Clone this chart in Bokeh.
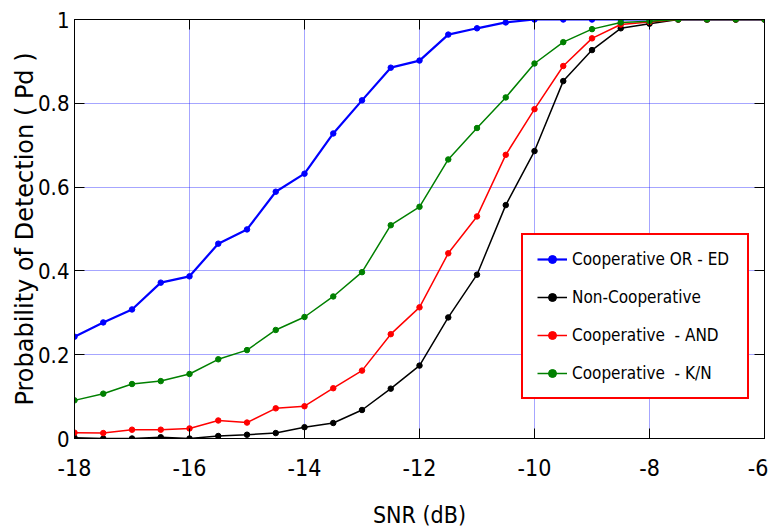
from bokeh.plotting import figure
from bokeh.models import (Range1d, FixedTicker, LinearAxis, Legend, LegendItem,
                          CustomJSTickFormatter)
from bokeh.embed import file_html
from bokeh.resources import INLINE

snr = [-18, -17.5, -17, -16.5, -16, -15.5, -15, -14.5, -14, -13.5, -13, -12.5,
       -12, -11.5, -11, -10.5, -10, -9.5, -9, -8.5, -8, -7.5, -7, -6.5, -6]
pd_or_ed = [0.243, 0.277, 0.308, 0.372, 0.387, 0.465, 0.499, 0.589, 0.632, 0.728,
            0.807, 0.885, 0.902, 0.964, 0.979, 0.993, 1, 1, 1, 1, 1, 1, 1, 1, 1]
pd_noncoop = [0.002, 0.0, 0.0, 0.003, 0.0, 0.006, 0.009, 0.013, 0.027, 0.037,
              0.068, 0.119, 0.174, 0.289, 0.391, 0.557, 0.686, 0.853, 0.927,
              0.979, 0.990, 1, 1, 1, 1]
pd_and = [0.014, 0.013, 0.021, 0.021, 0.024, 0.043, 0.038, 0.072, 0.077, 0.120,
          0.162, 0.249, 0.313, 0.442, 0.530, 0.677, 0.786, 0.889, 0.955, 0.988,
          0.994, 1, 1, 1, 1]
pd_kn = [0.091, 0.107, 0.130, 0.137, 0.154, 0.189, 0.211, 0.259, 0.290, 0.339,
         0.397, 0.509, 0.553, 0.666, 0.741, 0.814, 0.895, 0.946, 0.977, 0.993,
         0.996, 1, 1, 1, 1]

series = [
    ("Cooperative OR - ED", pd_or_ed, "#0000ff", 2.2),
    ("Non-Cooperative", pd_noncoop, "#000000", 1.5),
    ("Cooperative  - AND", pd_and, "#ff0000", 1.5),
    ("Cooperative  - K/N", pd_kn, "#008000", 1.5),
]
x_ticks = [-18, -16, -14, -12, -10, -8, -6]
y_ticks = [0, 0.2, 0.4, 0.6, 0.8, 1]

NARROW = "DejaVu Sans Condensed"

p = figure(width=768, height=530, output_backend="svg", toolbar_location=None,
           x_range=Range1d(-18, -6), y_range=Range1d(0, 1),
           min_border_left=74, min_border_right=4, min_border_top=19,
           min_border_bottom=92)
p.outline_line_color = "black"
p.outline_line_width = 1

items = []
for label, ys, color, lw in series:
    r1 = p.line(snr, ys, line_color=color, line_width=lw)
    r2 = p.scatter(snr, ys, marker="circle", size=5.5, fill_color=color,
                   line_color=color)
    items.append(LegendItem(label=label, renderers=[r1, r2]))

for ax in (p.xaxis[0], p.yaxis[0]):
    ax.axis_line_color = "black"
    ax.major_tick_line_color = "black"
    ax.major_tick_in = 10
    ax.major_tick_out = 0
    ax.minor_tick_line_color = None
    ax.major_label_text_font = NARROW
    ax.major_label_text_color = "black"
    ax.axis_label_text_font_style = "normal"
    ax.axis_label_text_color = "black"

p.xaxis.major_label_text_font_size = "23px"
p.yaxis.major_label_text_font_size = "22px"
p.xaxis.ticker = FixedTicker(ticks=x_ticks)
p.yaxis.ticker = FixedTicker(ticks=y_ticks)
p.xaxis.formatter = CustomJSTickFormatter(code="return String(tick);")
p.yaxis.formatter = CustomJSTickFormatter(
    code="return tick.toFixed(1).replace(/\\.0$/, '');")
p.xaxis.major_label_standoff = 20
p.yaxis.major_label_standoff = 5
p.xaxis.axis_label = "SNR (dB)"
p.xaxis.axis_label_text_font = NARROW
p.xaxis.axis_label_text_font_size = "23px"
p.xaxis.axis_label_standoff = 23
p.yaxis.axis_label = "Probability of Detection ( Pd )"
p.yaxis.axis_label_text_font = "DejaVu Sans"
p.yaxis.axis_label_text_font_size = "24px"
p.yaxis.axis_label_standoff = -4

# box ticks on top / right (no labels)
empty = CustomJSTickFormatter(code="return '';")
top = LinearAxis(ticker=FixedTicker(ticks=x_ticks), major_tick_in=10,
                 major_tick_out=0, minor_tick_line_color=None,
                 formatter=empty, major_label_standoff=0,
                 major_label_text_font_size="1px", axis_line_color="black")
right = LinearAxis(ticker=FixedTicker(ticks=y_ticks), major_tick_in=10,
                   major_tick_out=0, minor_tick_line_color=None,
                   formatter=empty, major_label_standoff=0,
                   major_label_text_font_size="1px", axis_line_color="black")
p.add_layout(top, "above")
p.add_layout(right, "right")

p.xgrid.ticker = FixedTicker(ticks=x_ticks)
p.ygrid.ticker = FixedTicker(ticks=y_ticks)
for g in (p.xgrid[0], p.ygrid[0]):
    g.grid_line_color = "#0000ff"
    g.grid_line_alpha = 0.35
    g.grid_line_width = 1

legend = Legend(items=items, location=(447, 39), margin=0, padding=14,
                glyph_width=30, glyph_height=20, label_height=20,
                label_width=161, label_standoff=5, spacing=18,
                label_text_font=NARROW, label_text_font_size="17px",
                label_text_color="black",
                border_line_color="#ff0000", border_line_width=2.5,
                border_line_alpha=1,
                background_fill_color="white", background_fill_alpha=1)
p.add_layout(legend, "center")

open("out.html", "w").write(file_html(p, INLINE))
